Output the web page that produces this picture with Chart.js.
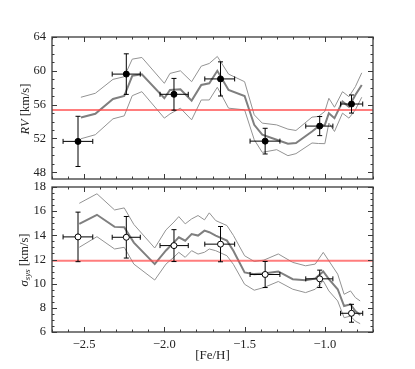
<!DOCTYPE html>
<html><head><meta charset="utf-8">
<script src="https://cdn.jsdelivr.net/npm/chart.js@4.4.0/dist/chart.umd.min.js"></script>
<style>
html,body{margin:0;padding:0;background:#fff;}
#wrap{position:relative;width:415px;height:369px;overflow:hidden;background:#fff;}
canvas{position:absolute;left:0;}
#c1{top:0;}
#c2{top:170px;}
.yt{position:absolute;font-family:'Liberation Serif',serif;font-size:12.5px;color:#222;white-space:nowrap;line-height:1;transform:translate(-50%,-50%) rotate(-90deg);}
.yt sub{font-size:9px;vertical-align:-2px;}
</style></head><body>
<div id="wrap">
<canvas id="c1" width="415" height="184"></canvas>
<canvas id="c2" width="415" height="199"></canvas>
<div class="yt" style="left:25px;top:109px"><i>RV</i> [km/s]</div>
<div class="yt" style="left:25px;top:260px"><i>σ<sub>sys</sub></i> [km/s]</div>
</div>
<script>
// ---- binned points ----
const feh    = [-2.538, -2.237, -1.940, -1.650, -1.372, -1.032, -0.834];
const fehLo  = [-2.631, -2.325, -2.027, -1.748, -1.466, -1.119, -0.902];
const fehHi  = [-2.446, -2.150, -1.851, -1.562, -1.280, -0.950, -0.764];
const rv     = [51.65, 59.61, 57.22, 59.04, 51.68, 53.46, 56.07];
const rvErr  = [2.97, 2.40, 1.88, 2.02, 1.52, 1.13, 1.07];
const sig    = [13.87, 13.84, 13.15, 13.27, 10.76, 10.40, 7.55];
const sigErr = [2.05, 1.72, 1.32, 1.46, 1.08, 0.72, 0.74];
// ---- running curves, RV panel ----
const rvGridX = [-2.52,-2.43,-2.32,-2.25,-2.20,-2.14,-2.00,-1.965,-1.90,-1.83,-1.77,-1.72,-1.67,-1.60,-1.50,-1.44,-1.39,-1.30,-1.23,-1.18,-1.08,-1.04,-1.00,-0.975,-0.94,-0.89,-0.85,-0.81,-0.77];
const rvUpper = [56.87,57.34,58.99,59.3,61.38,61.58,58.52,59.69,60.0,58.71,60.55,60.87,61.7,59.61,58.71,54.79,53.81,53.6,53.1,52.94,54.52,54.6,55.2,56.75,55.69,57.53,56.94,58.12,59.76];
const rvMid   = [54.47,54.91,56.67,57.02,59.41,59.58,56.75,57.73,57.81,56.47,58.32,58.52,60.0,57.73,57.02,53.61,52.44,51.85,51.38,51.46,52.82,53.41,53.6,54.99,54.4,56.35,55.76,57.14,58.32];
const rvLower = [51.96,52.44,54.32,54.67,57.06,57.53,54.4,54.9,55.58,54.2,56.55,56.55,58.05,55.58,55.38,51.85,50.35,50.67,49.96,50.2,51.46,51.4,51.38,53.81,52.82,54.99,54.4,55.38,56.87];
// ---- running curves, sigma panel ----
const sigGridX = [-2.53,-2.42,-2.31,-2.25,-2.19,-2.06,-1.99,-1.94,-1.91,-1.87,-1.83,-1.79,-1.75,-1.72,-1.68,-1.61,-1.57,-1.50,-1.44,-1.38,-1.29,-1.20,-1.12,-1.06,-1.01,-0.975,-0.92,-0.88,-0.84,-0.81,-0.78];
const sigUpper = [16.65,17.44,16.1,16.27,14.9,12.95,14.45,15.1,15.55,14.95,15.36,15.64,15.28,15.86,15.22,14.81,14.0,12.31,11.84,11.95,12.46,11.76,11.48,11.62,12.59,11.89,10.79,9.12,9.40,8.85,8.57];
const sigMid   = [14.95,15.70,14.7,14.67,13.4,11.62,12.75,13.42,13.84,13.56,14.11,13.98,14.39,14.26,13.98,13.56,12.73,10.93,10.79,10.84,11.01,10.37,10.29,10.43,11.01,10.37,9.54,8.15,8.29,7.73,7.40];
const sigLower = [13.01,13.89,12.87,13.01,11.62,10.30,11.62,12.2,12.59,12.18,12.73,12.45,12.6,12.87,12.73,12.31,11.6,9.95,9.46,9.68,10.18,9.54,9.26,9.54,10.23,9.40,8.57,7.18,7.32,6.90,6.69];
// ---- reference (mean) lines ----
const rvMean = 55.35;
const sigMean = 11.9;
// ---- axes ----
const xRange = [-2.7, -0.7];
const xMajor = [-2.5, -2.0, -1.5, -1.0];
const xMinorStep = 0.1;
const rvRange = [47.2, 64];
const rvTicks = [48, 52, 56, 60, 64];
const rvMinorStep = 1;
const sigRange = [6, 18];
const sigTicks = [6, 8, 10, 12, 14, 16, 18];
const sigMinorStep = 0.5;

const FONT = {family: "'Liberation Serif', serif", size: 12.5};
const TXT = '#222';

const frameTicks = {
  id: 'frameTicks',
  afterDraw(chart, args, o) {
    const {ctx, chartArea: a, scales: {x, y}} = chart;
    ctx.save();
    ctx.strokeStyle = '#3a3a3a';
    ctx.lineWidth = 1;
    ctx.beginPath();
    const seg = (x0, y0, x1, y1) => { ctx.moveTo(x0, y0); ctx.lineTo(x1, y1); };
    const xt = (v, len) => { const p = Math.round(x.getPixelForValue(v)) + 0.5; seg(p, a.bottom, p, a.bottom - len); seg(p, a.top, p, a.top + len); };
    const yt = (v, len) => { const p = Math.round(y.getPixelForValue(v)) + 0.5; seg(a.left, p, a.left + len, p); seg(a.right, p, a.right - len, p); };
    for (let v = xRange[0]; v <= xRange[1] + 1e-9; v += xMinorStep) xt(v, 2.5);
    xMajor.forEach(v => xt(v, 5));
    for (let v = o.yMin; v <= o.yMax + 1e-9; v += o.yMinor) yt(v, 2.5);
    o.yMajor.forEach(v => yt(v, 5));
    ctx.stroke();
    ctx.lineWidth = 1.3;
    ctx.strokeRect(a.left, a.top, a.right - a.left, a.bottom - a.top);
    ctx.restore();
  }
};

function buildDatasets(vals, errs, up, mid, lo, gx, mean, open) {
  const ds = [];
  ds.push({
    data: feh.map((v, i) => ({x: v, y: vals[i]})),
    showLine: false, pointRadius: 3, pointHoverRadius: 3,
    pointBackgroundColor: open ? '#fff' : '#000', pointBorderColor: '#000', pointBorderWidth: 1
  });
  feh.forEach((v, i) => {
    ds.push({
      data: [{x: v, y: vals[i] - errs[i]}, {x: v, y: vals[i] + errs[i]}],
      borderColor: '#000', borderWidth: 1, pointStyle: 'line', pointRadius: 2.5,
      pointBorderColor: '#000', pointBorderWidth: 1, pointRotation: 0
    });
    ds.push({
      data: [{x: fehLo[i], y: vals[i]}, {x: fehHi[i], y: vals[i]}],
      borderColor: '#000', borderWidth: 1, pointStyle: 'line', pointRadius: 2.5,
      pointBorderColor: '#000', pointBorderWidth: 1, pointRotation: 90
    });
  });
  ds.push({data: [{x: xRange[0], y: mean}, {x: xRange[1], y: mean}], borderColor: 'rgba(255,70,70,0.7)', borderWidth: 2, pointRadius: 0});
  ds.push({data: gx.map((v, i) => ({x: v, y: mid[i]})), borderColor: '#7f7f7f', borderWidth: 2, pointRadius: 0});
  ds.push({data: gx.map((v, i) => ({x: v, y: up[i]})), borderColor: '#939393', borderWidth: 1, pointRadius: 0});
  ds.push({data: gx.map((v, i) => ({x: v, y: lo[i]})), borderColor: '#939393', borderWidth: 1, pointRadius: 0});
  return ds;
}

function yScale(range, ticks) {
  return {
    type: 'linear', min: range[0], max: range[1],
    afterBuildTicks: s => { s.ticks = ticks.map(v => ({value: v})); },
    grid: {display: false, drawTicks: false}, border: {display: false},
    ticks: {padding: 6, font: FONT, color: TXT, callback: v => String(v)},
    afterFit: s => { s.width = 52; s.paddingTop = 0; s.paddingBottom = 0; }
  };
}

const common = {
  responsive: false, animation: false, devicePixelRatio: 1, events: [],
  plugins: {legend: {display: false}, tooltip: {enabled: false}},
};

new Chart(document.getElementById('c1'), {
  type: 'line',
  data: {datasets: buildDatasets(rv, rvErr, rvUpper, rvMid, rvLower, rvGridX, rvMean, false)},
  options: Object.assign({}, common, {
    layout: {padding: {top: 37, right: 42, bottom: 4, left: 0}},
    plugins: Object.assign({}, common.plugins, {frameTicks: {yMin: 48, yMax: 64, yMinor: rvMinorStep, yMajor: rvTicks}}),
    scales: {
      x: {type: 'linear', min: xRange[0], max: xRange[1], display: false},
      y: yScale(rvRange, rvTicks)
    }
  }),
  plugins: [frameTicks]
});

new Chart(document.getElementById('c2'), {
  type: 'line',
  data: {datasets: buildDatasets(sig, sigErr, sigUpper, sigMid, sigLower, sigGridX, sigMean, true)},
  options: Object.assign({}, common, {
    layout: {padding: {top: 17, right: 42, bottom: 0, left: 0}},
    plugins: Object.assign({}, common.plugins, {frameTicks: {yMin: 6, yMax: 18, yMinor: sigMinorStep, yMajor: sigTicks}}),
    scales: {
      x: {
        type: 'linear', min: xRange[0], max: xRange[1],
        afterBuildTicks: s => { s.ticks = xMajor.map(v => ({value: v})); },
        grid: {display: false, drawTicks: false}, border: {display: false},
        ticks: {padding: 5, font: FONT, color: TXT, maxRotation: 0,
                callback: v => (v < 0 ? '\u2212' : '') + Math.abs(v).toFixed(1)},
        title: {display: true, text: '[Fe/H]', font: {family: FONT.family, size: 13}, color: TXT, padding: {top: 0, bottom: 6}},
        afterFit: s => { s.height = 37; s.paddingLeft = 0; s.paddingRight = 0; }
      },
      y: yScale(sigRange, sigTicks)
    }
  }),
  plugins: [frameTicks]
});
</script>
</body></html>
